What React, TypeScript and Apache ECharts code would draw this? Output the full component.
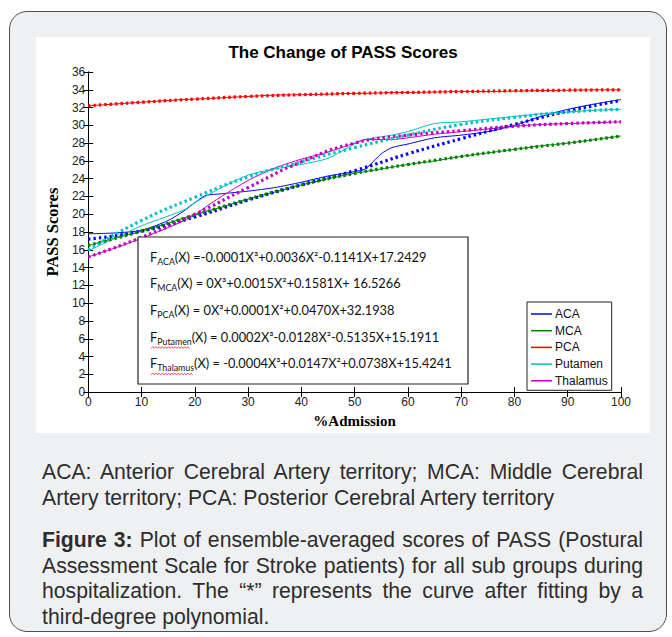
import React, { useEffect, useRef } from "react";
import * as echarts from "echarts";

// ---------- data ----------
const rawX = [0, 5, 10, 15, 18, 20, 22, 25, 30, 35, 40, 45, 50, 52, 55, 57, 60, 65, 70, 75, 80, 85, 90, 95, 100];
const acaRaw = [17.8, 17.9, 18.2, 19.3, 20.4, 21.3, 22.1, 22.3, 22.6, 23.0, 23.6, 24.3, 24.8, 25.1, 26.8, 27.5, 27.9, 28.6, 28.9, 29.3, 30.0, 31.0, 31.8, 32.4, 32.9];
const mcaRaw = [16.5, 17.3, 18.1, 19.0, 19.6, 19.9, 20.3, 20.8, 21.7, 22.5, 23.3, 24.0, 24.6, 24.8, 25.1, 25.3, 25.6, 26.0, 26.5, 26.9, 27.3, 27.7, 28.0, 28.4, 28.8];
const pcaRaw = [32.2, 32.4, 32.6, 32.8, 32.9, 32.95, 33.0, 33.1, 33.25, 33.4, 33.45, 33.5, 33.6, 33.6, 33.65, 33.7, 33.7, 33.75, 33.8, 33.8, 33.85, 33.9, 33.95, 34.0, 34.0];
const putamenRaw = [15.9, 17.3, 18.7, 19.8, 20.5, 21.3, 22.0, 23.0, 24.4, 25.1, 25.6, 26.3, 27.9, 28.4, 28.7, 28.9, 29.3, 30.2, 30.4, 30.7, 31.0, 31.3, 31.5, 31.7, 31.8];
const thalamusRaw = [15.2, 16.2, 17.3, 18.5, 19.3, 19.9, 20.8, 22.0, 23.8, 25.2, 26.2, 27.0, 28.0, 28.4, 28.4, 28.4, 28.6, 29.0, 29.3, 29.6, 29.9, 30.1, 30.2, 30.3, 30.4];

const fitX = [0, 10, 20, 30, 40, 50, 60, 70, 80, 90, 100];
const acaFit = [17.2, 18.1, 19.7, 21.6, 23.3, 24.9, 26.8, 28.5, 30.1, 31.6, 32.8];
const mcaFit = [16.5, 18.1, 19.9, 21.7, 23.3, 24.6, 25.6, 26.5, 27.3, 28.0, 28.8];
const pcaFit = [32.2, 32.6, 32.95, 33.25, 33.45, 33.6, 33.7, 33.8, 33.9, 33.95, 34.0];
const putamenFit = [16.0, 19.3, 21.9, 24.2, 25.9, 27.5, 28.9, 30.1, 30.9, 31.5, 31.8];
const thalamusFit = [15.2, 17.4, 20.0, 23.0, 25.9, 28.0, 28.9, 29.4, 29.9, 30.2, 30.4];

const seriesNames = ["ACA", "MCA", "PCA", "Putamen", "Thalamus"];
const equationSubs = ["ACA", "MCA", "PCA", "Putamen", "Thalamus"];
const equationBodies = [
  "(X) =-0.0001X³+0.0036X²-0.1141X+17.2429",
  "(X) = 0X³+0.0015X²+0.1581X+ 16.5266",
  "(X) = 0X³+0.0001X²+0.0470X+32.1938",
  "(X) = 0.0002X³-0.0128X²-0.5135X+15.1911",
  "(X) = -0.0004X³+0.0147X²+0.0738X+15.4241",
];
const chartTitle = "The Change of PASS Scores";
const xAxisName = "%Admission";
const yAxisName = "PASS Scores";
const captionLines = [
  "ACA: Anterior Cerebral Artery territory; MCA: Middle Cerebral",
  "Artery territory; PCA: Posterior Cerebral Artery territory",
  "Figure 3: Plot of ensemble-averaged scores of PASS (Postural",
  "Assessment Scale for Stroke patients) for all sub groups during",
  "hospitalization. The “*” represents the curve after fitting by a",
  "third-degree polynomial.",
];
const boldPrefix = "Figure 3:";

// ---------- styles ----------
const colors = ["#0000ff", "#008000", "#ff0000", "#00bfbf", "#bf00bf"];
const narrow = '"Liberation Sans Narrow", "Liberation Sans", Arial, sans-serif';
const serif = '"Liberation Serif", "Times New Roman", serif';

function zigzag(x0: number, x1: number, y: number) {
  const pts: number[][] = [];
  let up = false;
  for (let x = x0; x <= x1; x += 1.6) {
    pts.push([x, up ? y - 0.9 : y + 0.9]);
    up = !up;
  }
  return pts;
}

export default function App() {
  const ref = useRef<HTMLDivElement>(null);

  useEffect(() => {
    const chart = echarts.init(ref.current!, null, { renderer: "svg" });
    const raws = [acaRaw, mcaRaw, pcaRaw, putamenRaw, thalamusRaw];
    const fits = [acaFit, mcaFit, pcaFit, putamenFit, thalamusFit];
    const series: any[] = [];
    raws.forEach((r, i) => {
      series.push({
        name: seriesNames[i],
        type: "line",
        data: rawX.map((x, j) => [x, r[j]]),
        showSymbol: false,
        smooth: 0.25,
        color: colors[i],
        lineStyle: { width: 1, color: colors[i] },
        z: 2,
      });
    });
    fits.forEach((f, i) => {
      series.push({
        name: seriesNames[i] + " fit",
        type: "line",
        data: fitX.map((x, j) => [x, f[j]]),
        showSymbol: false,
        smooth: true,
        color: colors[i],
        lineStyle: { width: 3.2, type: [2.4, 3], color: colors[i], cap: "butt" },
        z: 3,
      });
    });

    const eqY = [219.7, 246.3, 273, 299.7, 326.3];
    const graphics: any[] = [
      {
        type: "rect",
        shape: { x: 102, y: 200, width: 330, height: 147 },
        style: { fill: "#fff", stroke: "#222", lineWidth: 1.2 },
        z: 10,
      },
    ];
    equationSubs.forEach((sub, i) => {
      graphics.push({
        type: "text",
        x: 114,
        y: eqY[i],
        z: 11,
        style: {
          text: `{m|F}{s|${sub}}{m|${equationBodies[i]}}`,
          verticalAlign: "middle",
          rich: {
            m: { fontSize: 12.8, fontFamily: "Lato, sans-serif", fill: "#111", lineHeight: 18 },
            s: { fontSize: 8.8, fontFamily: "Lato, sans-serif", fill: "#111", lineHeight: 8, verticalAlign: "bottom" },
          },
        },
      });
    });
    graphics.push({
      type: "polyline",
      z: 12,
      shape: { points: zigzag(115, 154, 310.5) },
      style: { stroke: "#e03030", lineWidth: 0.8, fill: null },
    });
    graphics.push({
      type: "polyline",
      z: 12,
      shape: { points: zigzag(115, 157, 337) },
      style: { stroke: "#e03030", lineWidth: 0.8, fill: null },
    });

    const baseAxis = {
      axisLine: { show: true, lineStyle: { color: "#000", width: 1 } },
      axisTick: { show: true, inside: true, length: 5, lineStyle: { color: "#000", width: 1 } },
      splitLine: { show: false },
    };

    chart.setOption({
      animation: false,
      backgroundColor: "#fff",
      title: {
        text: chartTitle,
        left: "center",
        top: 7,
        padding: 0,
        textStyle: { fontFamily: '"Liberation Sans", Arial, sans-serif', fontWeight: "bold", fontSize: 17, color: "#000" },
      },
      grid: { left: 46, right: 29, top: 35, bottom: 37 },
      legend: {
        data: seriesNames,
        orient: "vertical",
        left: 491,
        top: 265,
        backgroundColor: "#fff",
        borderColor: "#222",
        borderWidth: 1,
        borderRadius: 0,
        padding: [5.5, 4, 3, 4],
        itemGap: 3.7,
        itemWidth: 21,
        itemHeight: 1.5,
        icon: "rect",
        textStyle: { fontFamily: narrow, fontSize: 12, color: "#111", lineHeight: 13, padding: [0, 0, 0, -2] },
        z: 20,
      },
      xAxis: [
        {
          ...baseAxis,
          type: "value",
          min: 0,
          max: 100,
          interval: 10,
          position: "bottom",
          name: xAxisName,
          nameLocation: "middle",
          nameGap: 19,
          nameTextStyle: { fontFamily: serif, fontWeight: "bold", fontSize: 15, color: "#000" },
          axisLabel: { fontFamily: narrow, fontSize: 12, color: "#222", margin: 4 },
        },
        {
          ...baseAxis,
          type: "value",
          min: 0,
          max: 100,
          interval: 10,
          position: "top",
          axisLabel: { show: false },
        },
      ],
      yAxis: [
        {
          ...baseAxis,
          type: "value",
          min: 0,
          max: 36,
          interval: 2,
          position: "left",
          name: yAxisName,
          nameLocation: "middle",
          nameGap: 18,
          nameTextStyle: { fontFamily: serif, fontWeight: "bold", fontSize: 16.5, color: "#000" },
          axisLabel: { fontFamily: narrow, fontSize: 12, color: "#222", margin: 3 },
        },
        {
          ...baseAxis,
          type: "value",
          min: 0,
          max: 36,
          interval: 2,
          position: "right",
          axisLabel: { show: false },
        },
      ],
      graphic: graphics,
      series,
    });
    return () => chart.dispose();
  }, []);

  const centers = [472, 497.5, 540, 565.5, 591, 616.5];
  const justified = [true, false, true, true, true, false];

  return (
    <div style={{ position: "absolute", left: 0, top: 0, width: 672, height: 637, overflow: "hidden", background: "#fff" }}>
      <div
        style={{
          position: "absolute",
          left: 9,
          top: 11,
          width: 656,
          height: 619,
          border: "1.5px solid #505050",
          borderRadius: 18,
          background: "#eff0f2",
        }}
      />
      <div ref={ref} style={{ position: "absolute", left: 36, top: 37, width: 614, height: 396, background: "#fff" }} />
      {captionLines.map((line, i) => {
        const hasBold = line.startsWith(boldPrefix);
        return (
          <div
            key={i}
            style={{
              position: "absolute",
              left: 42,
              top: centers[i] - 13,
              width: 601,
              height: 26,
              lineHeight: "26px",
              fontFamily: '"Liberation Sans", Arial, sans-serif',
              fontSize: 21.2,
              color: "#2d2d2d",
              textAlign: justified[i] ? "justify" : "left",
              textAlignLast: justified[i] ? "justify" : "left",
            } as any}
          >
            {hasBold ? (
              <>
                <b>{boldPrefix}</b>
                {line.slice(boldPrefix.length)}
              </>
            ) : (
              line
            )}
          </div>
        );
      })}
    </div>
  );
}
